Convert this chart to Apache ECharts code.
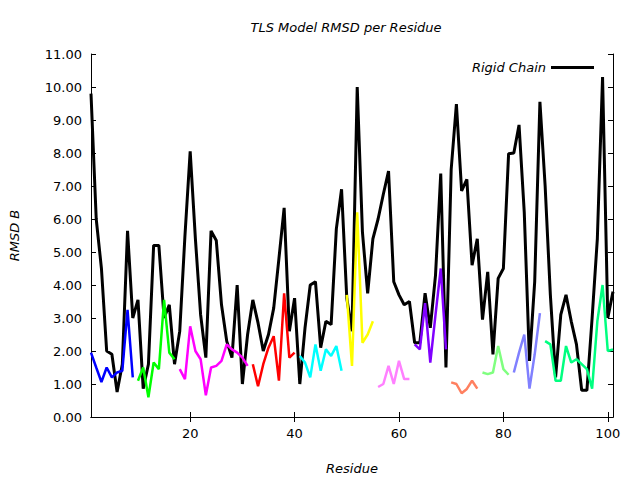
<!DOCTYPE html>
<html><head><meta charset="utf-8">
<script src="https://cdn.jsdelivr.net/npm/echarts@6/dist/echarts.min.js"></script>
<style>html,body{margin:0;padding:0;background:#fff}#c{width:640px;height:480px}</style>
</head><body><div id="c"></div>
<script>
const chartTitle = 'TLS Model RMSD per Residue';
const xName = 'Residue';
const yName = 'RMSD B';
const legendName = 'Rigid Chain';
const xTicks = [20, 40, 60, 80, 100];
const yTicks = [0,1,2,3,4,5,6,7,8,9,10,11];

// residue numbers 1..101
const residues = [1,2,3,4,5,6,7,8,9,10,11,12,13,14,15,16,17,18,19,20,21,22,23,24,25,26,27,28,29,30,
31,32,33,34,35,36,37,38,39,40,41,42,43,44,45,46,47,48,49,50,51,52,53,54,55,56,57,58,59,60,
61,62,63,64,65,66,67,68,69,70,71,72,73,74,75,76,77,78,79,80,81,82,83,84,85,86,87,88,89,90,
91,92,93,94,95,96,97,98,99,100,101];

// Rigid chain RMSD per residue
const rigidChain = [9.8,6.0,4.5,2.0,1.9,0.76,1.6,5.64,3.0,3.55,
0.86,1.6,5.2,5.2,3.0,3.4,1.6,2.6,5.5,8.05,
5.4,3.1,1.8,5.64,5.35,3.4,2.3,1.8,4.0,1.0,
2.5,3.55,2.85,2.0,2.5,3.3,4.8,6.34,2.6,3.6,
1.0,2.7,4.0,4.1,2.1,2.9,2.8,5.7,6.9,3.6,
2.6,10.0,5.6,3.75,5.4,6.0,6.75,7.45,4.1,3.7,
3.4,3.5,2.25,2.25,3.75,2.7,4.3,7.38,1.5,7.5,
9.48,6.85,7.2,4.6,5.4,2.95,4.4,1.9,4.2,4.5,
7.98,8.0,8.85,6.2,1.7,4.1,9.55,7.0,3.7,1.2,
3.1,3.7,2.9,2.2,0.81,0.81,3.0,5.4,10.3,3.0,3.8];

// TLS group segments: first residue + RMSD values
const seg1Start = 1,  seg1 = [1.95,1.5,1.06,1.5,1.2,1.35,1.4,3.25,1.2];
const seg2Start = 10, seg2 = [1.1,1.5,0.6,1.65,1.45,3.55,1.95,1.75];
const seg3Start = 18, seg3 = [1.45,1.15,2.75,2.0,1.75,0.66,1.5,1.55,1.7,2.2,2.05,1.95,1.8,1.55];
const seg4Start = 32, seg4 = [1.6,0.93,1.6,2.1,2.45,1.1,3.75,1.8,1.95];
const seg5Start = 41, seg5 = [1.85,1.65,1.2,2.2,1.4,2.05,1.85,2.15,1.4];
const seg6Start = 50, seg6 = [3.7,1.55,6.2,2.25,2.5,2.9];
const seg7Start = 56, seg7 = [0.91,1.0,1.55,1.0,1.7,1.15,1.15];
const seg8Start = 63, seg8 = [2.2,2.05,3.45,1.65,3.1,4.5,2.05];
const seg9Start = 70, seg9 = [1.05,1.0,0.72,0.85,1.1,0.86];
const seg10Start = 76, seg10 = [1.35,1.3,1.35,2.15,1.45,1.28];
const seg11Start = 82, seg11 = [1.35,1.95,2.5,0.86,1.9,3.15];
const seg12Start = 88, seg12 = [2.3,2.2,1.1,1.1,2.15,1.65,1.75,1.6,1.45,0.86,2.9,4.0,2.0,2.05];

const segColors = ['#0000ff','#00ff00','#ff00ff','#ff0000','#00ffff','#ffff00',
                   '#ff80ff','#8000ff','#ff8060','#80ff80','#8080ff','#00ff80'];
const segments = [
  [seg1Start, seg1],[seg2Start, seg2],[seg3Start, seg3],[seg4Start, seg4],
  [seg5Start, seg5],[seg6Start, seg6],[seg7Start, seg7],[seg8Start, seg8],
  [seg9Start, seg9],[seg10Start, seg10],[seg11Start, seg11],[seg12Start, seg12]
];

const FONT = 'DejaVu Sans';
const chart = echarts.init(document.getElementById('c'), null, {renderer: 'svg'});

const series = [{
  name: legendName, type: 'line', symbol: 'none', animation: false,
  xAxisIndex: 0, yAxisIndex: 0,
  lineStyle: {color: '#000', width: 3},
  itemStyle: {color: '#000'},
  data: residues.map((r, i) => [r, rigidChain[i]])
}];
segments.forEach((s, k) => {
  series.push({
    name: 'seg' + (k + 1), type: 'line', symbol: 'none', animation: false,
    xAxisIndex: 0, yAxisIndex: 0, z: 3,
    lineStyle: {color: segColors[k], width: 2.5},
    data: s[1].map((v, i) => [s[0] + i, v])
  });
});

const tickCommon = {show: true, inside: true, length: 5, lineStyle: {color: '#000', width: 1}};

chart.setOption({
  animation: false,
  backgroundColor: '#fff',
  grid: {left: 85, right: 27, top: 54, bottom: 58, show: false},
  graphic: [{
    type: 'text', x: 346, y: 27,
    style: {text: chartTitle, fill: '#000', font: 'italic 13px "DejaVu Sans"',
            textAlign: 'center', textVerticalAlign: 'middle'}
  }],
  legend: {
    data: [legendName], right: 41, top: 56, align: 'right',
    icon: 'rect', itemWidth: 43, itemHeight: 3, itemGap: 8,
    textStyle: {fontFamily: FONT, fontStyle: 'italic', fontSize: 13, color: '#000'}
  },
  xAxis: [{
    type: 'value', min: 1, max: 101, position: 'bottom',
    name: xName, nameLocation: 'middle', nameGap: 45,
    nameTextStyle: {fontFamily: FONT, fontStyle: 'italic', fontSize: 13, color: '#000'},
    axisLine: {show: true, lineStyle: {color: '#000', width: 1}},
    axisTick: Object.assign({customValues: xTicks}, tickCommon),
    axisLabel: {customValues: xTicks, margin: 10, fontFamily: FONT, fontSize: 13, color: '#000'},
    splitLine: {show: false}
  }, {
    type: 'value', min: 1, max: 101, position: 'top',
    axisLine: {show: true, lineStyle: {color: '#000', width: 1}},
    axisTick: Object.assign({customValues: xTicks}, tickCommon),
    axisLabel: {show: false},
    splitLine: {show: false}
  }],
  yAxis: [{
    type: 'value', min: 0, max: 11, interval: 1, position: 'left',
    name: yName, nameLocation: 'middle', nameGap: 70,
    nameTextStyle: {fontFamily: FONT, fontStyle: 'italic', fontSize: 13, color: '#000'},
    axisLine: {show: true, lineStyle: {color: '#000', width: 1}},
    axisTick: tickCommon,
    axisLabel: {margin: 9, fontFamily: FONT, fontSize: 13, color: '#000',
                formatter: v => v.toFixed(2)},
    splitLine: {show: false}
  }, {
    type: 'value', min: 0, max: 11, interval: 1, position: 'right',
    axisLine: {show: true, lineStyle: {color: '#000', width: 1}},
    axisTick: tickCommon,
    axisLabel: {show: false},
    splitLine: {show: false}
  }],
  series: series
});
</script>
</body></html>
